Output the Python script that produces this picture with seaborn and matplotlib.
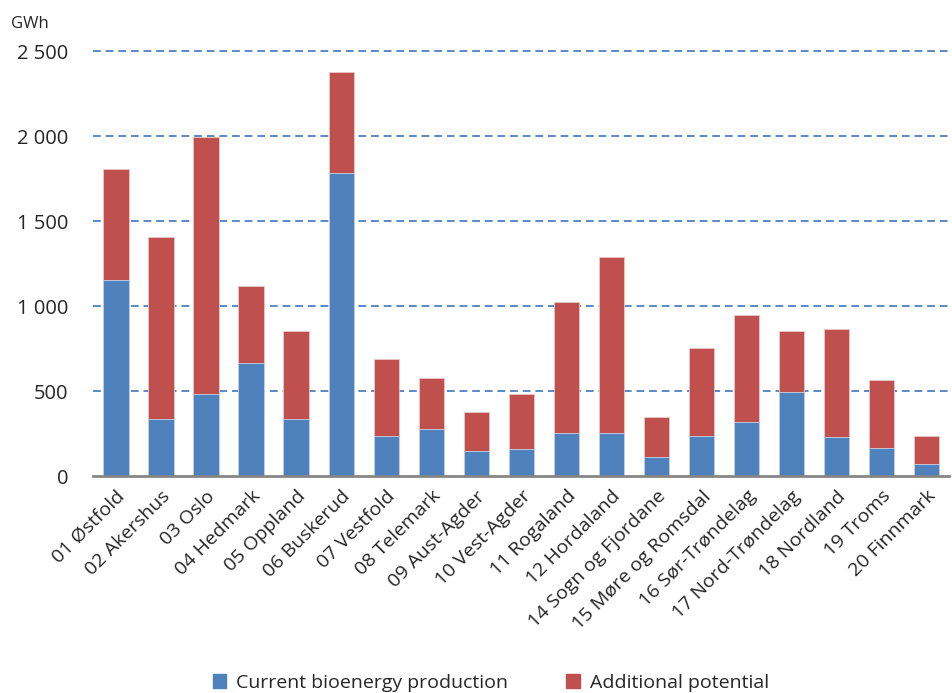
import matplotlib
matplotlib.use("Agg")
import pandas as pd
import seaborn as sns
from matplotlib import pyplot as plt
from matplotlib.patches import Patch

counties = ["01 Østfold", "02 Akershus", "03 Oslo", "04 Hedmark", "05 Oppland",
            "06 Buskerud", "07 Vestfold", "08 Telemark", "09 Aust-Agder",
            "10 Vest-Agder", "11 Rogaland", "12 Hordaland", "14 Sogn og Fjordane",
            "15 Møre og Romsdal", "16 Sør-Trøndelag", "17 Nord-Trøndelag",
            "18 Nordland", "19 Troms", "20 Finnmark"]
current = [1153, 335, 482, 665, 335, 1782, 235, 276, 147, 159,
           253, 253, 112, 235, 318, 494, 229, 165, 71]
additional = [653, 1071, 1512, 453, 518, 594, 453, 300, 229, 323,
              771, 1035, 235, 518, 629, 359, 636, 400, 164]
y_ticks = [0, 500, 1000, 1500, 2000, 2500]
y_labels = ["0", "500", "1 000", "1 500", "2 000", "2 500"]

BLUE = "#4F81BD"
RED = "#C0504D"

sns.set_style("white")
plt.rcParams["font.family"] = ["Open Sans", "DejaVu Sans"]

df = pd.DataFrame({
    "County": counties,
    "Current": current,
    "Total": [c + a for c, a in zip(current, additional)],
})

fig = plt.figure(figsize=(9.53, 6.93), dpi=100)
ax = fig.add_axes([0.098, 0.313, 0.898, 0.613])

# stacked: draw totals in red, then current production in blue on top
sns.barplot(data=df, x="County", y="Total", color=RED, saturation=1, width=0.56,
            edgecolor="#e8c8c8", linewidth=0.6, ax=ax, zorder=3)
sns.barplot(data=df, x="County", y="Current", color=BLUE, saturation=1, width=0.56,
            edgecolor="#c8d4e8", linewidth=0.6, ax=ax, zorder=4)

ax.set_ylim(0, 2500)
ax.set_xlim(-0.5, len(counties) - 0.5)
ax.set_yticks(y_ticks)
ax.set_yticklabels(y_labels, fontsize=14.5)
ax.set_xlabel("")
ax.set_ylabel("")
ax.set_xticks(range(len(counties)))
ax.set_xticklabels(counties, rotation=45, ha="right", rotation_mode="anchor", fontsize=14)
ax.tick_params(axis="both", length=0)
ax.tick_params(axis="y", pad=18)
ax.tick_params(axis="x", pad=8)

for y in y_ticks[1:]:
    ax.axhline(y, color="#5A89C4", linestyle=(0, (4, 2.5)), linewidth=1.4,
               zorder=1, clip_on=False)

for side in ["left", "right", "top"]:
    ax.spines[side].set_visible(False)
ax.spines["bottom"].set_color("#868686")
ax.spines["bottom"].set_linewidth(2)
ax.spines["bottom"].set_zorder(5)

fig.text(0.012, 0.966, "GWh", fontsize=12, va="center")

handles = [Patch(color=BLUE, label="Current bioenergy production"),
           Patch(color=RED, label="Additional potential")]
fig.legend(handles=handles, loc="center", bbox_to_anchor=(0.515, 0.015), ncol=2,
           frameon=False, fontsize=14, handlelength=0.7, handleheight=0.7,
           columnspacing=3.0, handletextpad=0.5)

fig.savefig("out.png", dpi=100)
